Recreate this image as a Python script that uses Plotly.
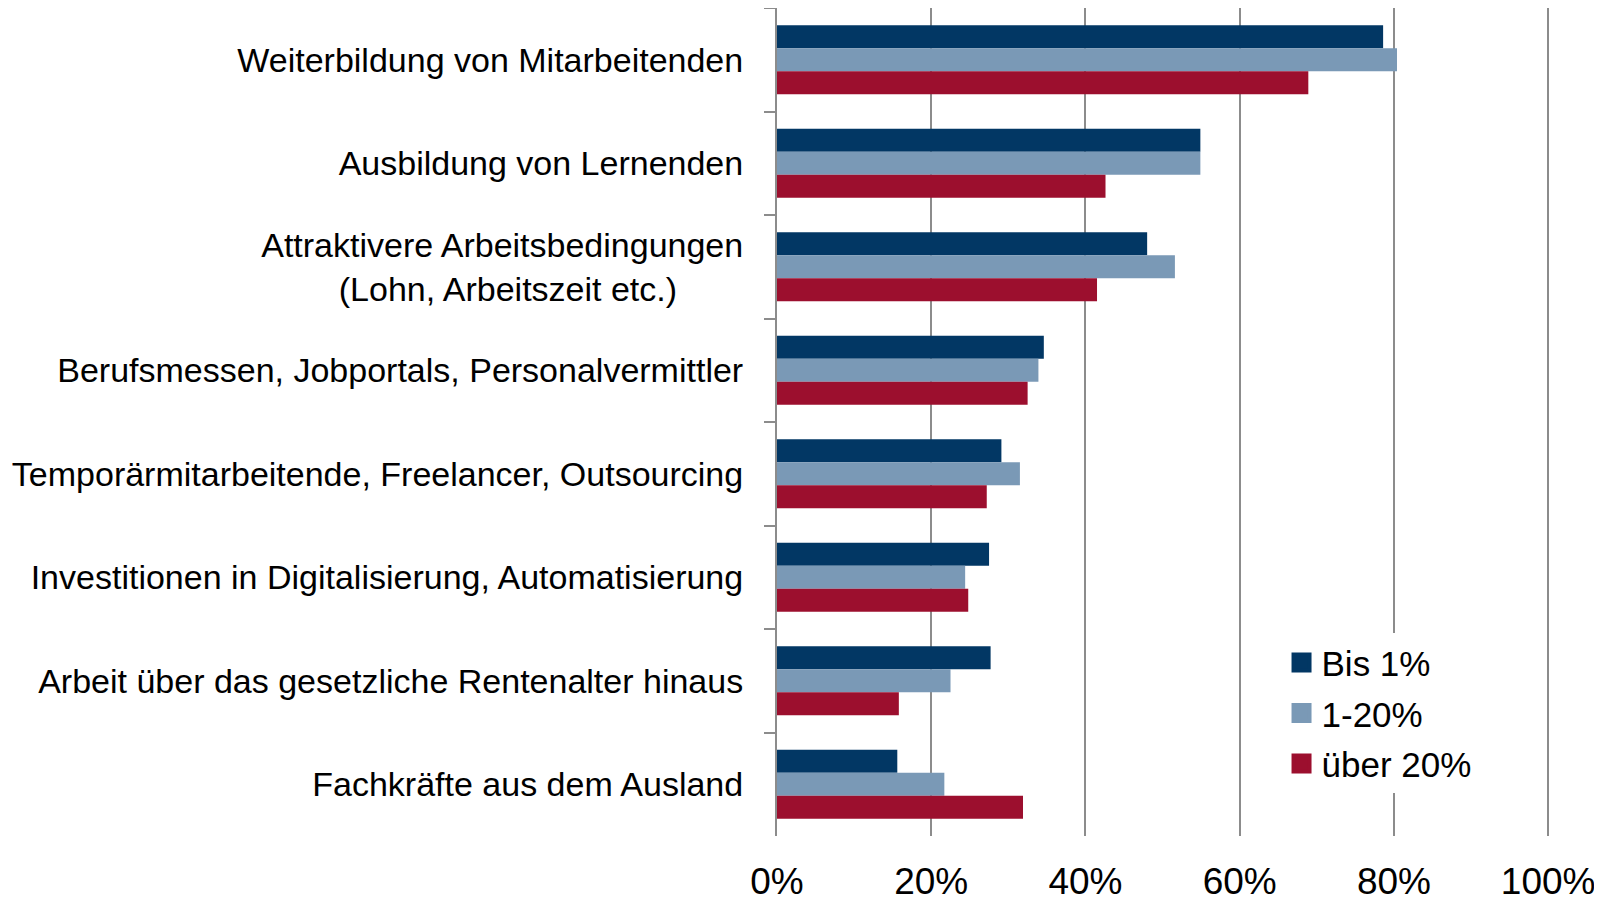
import plotly.graph_objects as go

categories = [
    "Weiterbildung von Mitarbeitenden",
    "Ausbildung von Lernenden",
    "Attraktivere Arbeitsbedingungen<br>(Lohn, Arbeitszeit etc.)\u00a0\u00a0\u00a0\u00a0\u00a0\u00a0\u00a0",
    "Berufsmessen, Jobportals, Personalvermittler",
    "Temporärmitarbeitende, Freelancer, Outsourcing",
    "Investitionen in Digitalisierung, Automatisierung",
    "Arbeit über das gesetzliche Rentenalter hinaus",
    "Fachkräfte aus dem Ausland",
]
series_names = ["Bis 1%", "1-20%", "über 20%"]
bis_1 = [78.6, 54.9, 48.0, 34.6, 29.1, 27.5, 27.7, 15.6]
p1_20 = [80.4, 54.9, 51.6, 33.9, 31.5, 24.4, 22.5, 21.7]
ueber_20 = [68.9, 42.6, 41.5, 32.5, 27.2, 24.8, 15.8, 31.9]
x_ticks = [0, 20, 40, 60, 80, 100]

colors = ["#023764", "#7A99B6", "#9C0F2E"]
values = [bis_1, p1_20, ueber_20]
FONT = "Liberation Sans, Arial, sans-serif"

fig = go.Figure()
for name, vals, col in zip(series_names, values, colors):
    fig.add_trace(go.Bar(
        y=categories, x=vals, name=name, orientation="h",
        marker=dict(color=col, line=dict(width=0)),
        showlegend=False,
    ))
for i, (name, col) in enumerate(zip(series_names, colors)):
    fig.add_trace(go.Scatter(
        x=[None], y=[None], mode="markers", name=name,
        legendgroup=f"g{i}",
        marker=dict(symbol="square", size=16, color=col,
                    line=dict(color=col, width=4)),
    ))

fig.update_layout(
    width=1602, height=900,
    margin=dict(l=769, r=58, t=0, b=72, autoexpand=False),
    paper_bgcolor="white", plot_bgcolor="white",
    barmode="group", bargap=0.335, bargroupgap=0,
    font=dict(family=FONT, size=34, color="#000000"),
    legend=dict(
        x=0.651, y=0.245, xanchor="left", yanchor="top",
        bgcolor="white", font=dict(size=35, family=FONT),
        tracegroupgap=2, traceorder="grouped",
        itemsizing="trace",
    ),
    xaxis=dict(
        range=[0, 100.5], tickvals=x_ticks,
        ticktext=[f"{v}%" for v in x_ticks],
        showgrid=True, gridcolor="#8C8C8C", gridwidth=2,
        zeroline=False, showline=False, ticks="",
        tickfont=dict(size=37), ticklabelstandoff=20,
        ticklabeloverflow="allow", automargin=False,
    ),
    yaxis=dict(
        autorange="reversed", showgrid=False,
        showline=True, linecolor="#8C8C8C", linewidth=2,
        ticks="outside", tickson="boundaries", ticklen=11,
        tickcolor="#8C8C8C", tickwidth=2,
        tickfont=dict(size=34), ticklabelstandoff=25,
        automargin=False,
    ),
)

fig.write_html("out.html")
